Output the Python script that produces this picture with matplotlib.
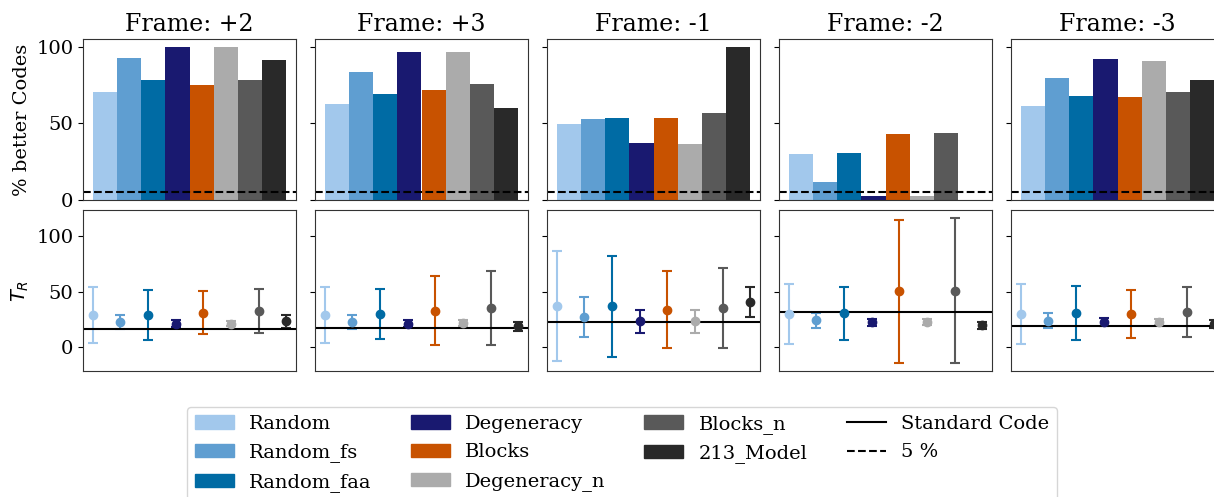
import matplotlib.pyplot as plt
from matplotlib.patches import Patch
from matplotlib.lines import Line2D

plt.rcParams['font.family'] = 'DejaVu Serif'
plt.rcParams['font.size'] = 14

# codes and colours
codes = ['Random', 'Random_fs', 'Random_faa', 'Degeneracy', 'Blocks',
         'Degeneracy_n', 'Blocks_n', '213_Model']
colors = ['#A2C8EC', '#5F9ED1', '#006BA4', '#191970', '#C85200',
          '#ABABAB', '#595959', '#292929']

frames = ['Frame: +2', 'Frame: +3', 'Frame: -1', 'Frame: -2', 'Frame: -3']

# % better codes per frame (one value per code)
pct_better = [
    [70.5, 92.6, 78.0, 100.0, 74.7, 100.0, 78.0, 91.5],
    [62.9, 83.4, 69.4, 96.5, 72.0, 96.5, 75.8, 60.3],
    [49.8, 52.8, 53.5, 36.9, 53.7, 36.2, 56.6, 100.0],
    [30.3, 11.6, 30.8, 2.4, 42.8, 2.4, 43.7, 0.0],
    [61.1, 79.5, 68.1, 92.1, 67.5, 90.8, 70.5, 78.0],
]

# T_R mean and spread per frame
tr_mean = [
    [28.6, 22.6, 28.6, 21.0, 31.0, 21.0, 32.5, 22.9],
    [28.9, 22.6, 29.5, 21.0, 32.8, 21.4, 34.9, 18.4],
    [36.7, 26.8, 36.7, 22.9, 33.7, 22.9, 34.9, 40.4],
    [29.5, 23.8, 30.4, 22.0, 50.3, 22.3, 50.9, 19.3],
    [29.7, 23.7, 30.6, 22.5, 30.0, 22.5, 31.5, 20.5],
]
tr_err = [
    [25.6, 6.3, 22.6, 3.0, 19.5, 2.5, 20.3, 6.0],
    [25.6, 6.3, 22.9, 3.5, 31.0, 3.0, 33.4, 4.0],
    [50.0, 18.0, 46.0, 10.7, 34.6, 10.0, 36.2, 13.4],
    [27.4, 7.0, 24.0, 3.5, 65.0, 3.0, 66.0, 3.5],
    [27.5, 7.0, 24.2, 3.5, 21.8, 3.0, 22.7, 3.5],
]

# T_R of the standard code
tr_standard = [15.7, 17.2, 22.3, 31.6, 18.6]

W, H = 1214, 497
fig = plt.figure(figsize=(W / 100, H / 100), dpi=100)

x = list(range(len(codes)))
for i, frame in enumerate(frames):
    left = (83 + 232 * i) / W
    ax1 = fig.add_axes([left, 1 - 200 / H, 213 / W, 161 / H])
    ax2 = fig.add_axes([left, 1 - 371 / H, 213 / W, 161 / H])

    ax1.bar(x, pct_better[i], width=1.0, color=colors)
    ax1.axhline(5, color='black', linestyle='--', linewidth=1.5)
    ax1.set_ylim(0, 105)
    ax1.set_title(frame, fontsize=17)

    for j in x:
        ax2.errorbar(j, tr_mean[i][j], yerr=tr_err[i][j], fmt='o',
                     color=colors[j], markersize=6, capsize=3.5,
                     elinewidth=1.5, capthick=1.5)
    ax2.axhline(tr_standard[i], color='black', linewidth=1.5)
    ax2.set_ylim(-22, 124)

    for ax in (ax1, ax2):
        ax.set_xticks([])
        ax.set_yticks([0, 50, 100])
        for sp in ax.spines.values():
            sp.set_color('#333333')
        if i > 0:
            ax.set_yticklabels([])

    if i == 0:
        ax1.set_ylabel('% better Codes')
        ax2.set_ylabel('$T_R$')

handles = [Patch(color=c, label=n) for c, n in zip(colors, codes)]
handles.append(Line2D([], [], color='black', linewidth=1.5, label='Standard Code'))
handles.append(Line2D([], [], color='black', linestyle='--', linewidth=1.5, label='5 %'))
fig.legend(handles=handles, loc='upper center', ncol=4,
           bbox_to_anchor=(622 / W, 1 - 407 / H), fontsize=14,
           borderaxespad=0, labelspacing=0.55)

fig.savefig('out.png', dpi=100)
